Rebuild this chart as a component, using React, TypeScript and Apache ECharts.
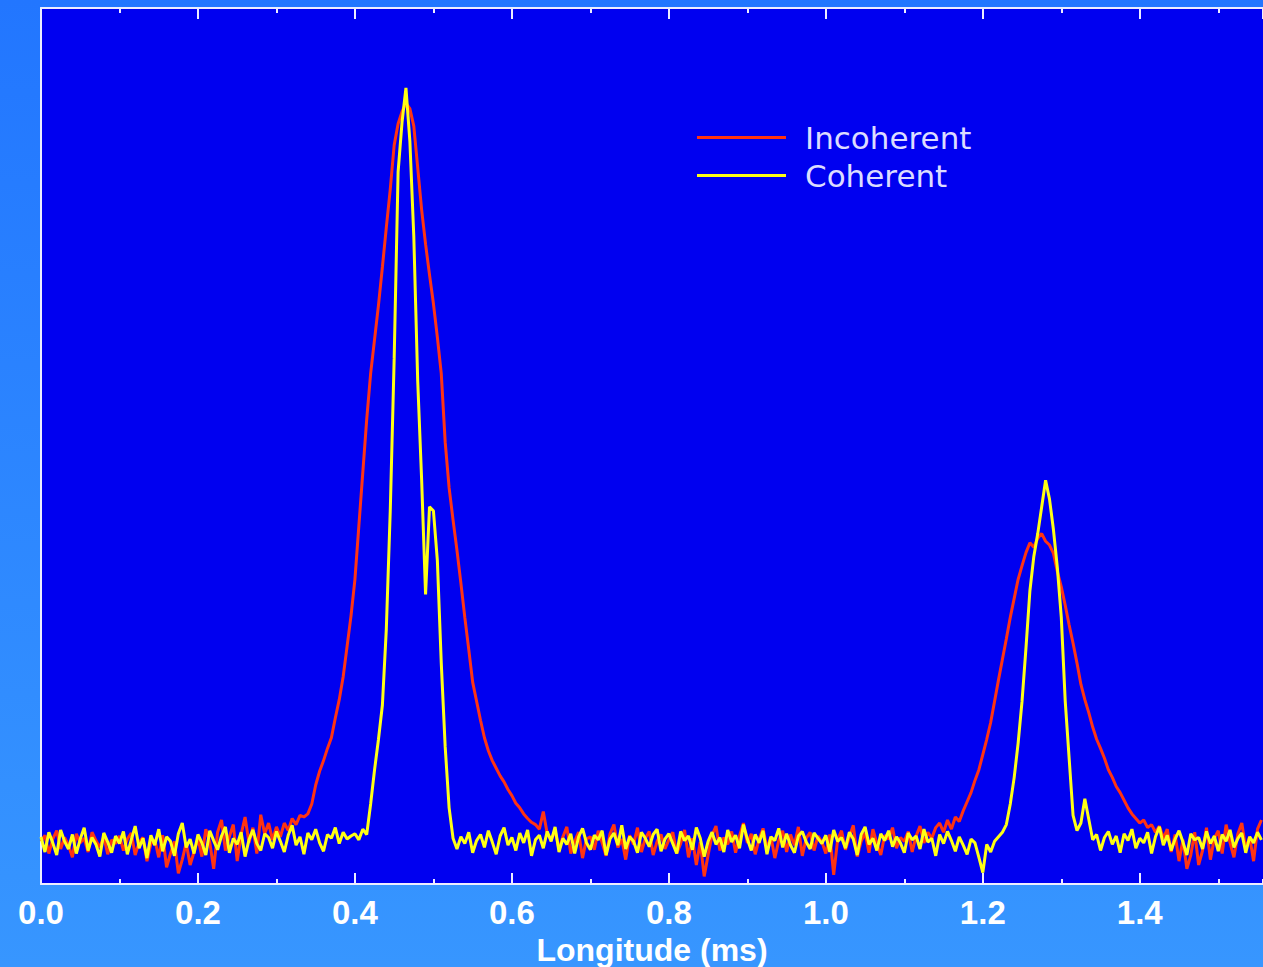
import React, { useEffect, useRef } from "react";
import * as echarts from "echarts";

// Pulse profiles sampled every 0.005 ms, starting at 0 ms (intensity, normalised to the main peak).
const SAMPLE_STEP_MS = 0.005;

const incoherentProfile: number[] = [
  // 0.000 - 0.095
  0.006, 0.014, -0.010, 0.009, 0.020, -0.004, 0.011, 0.001, -0.015, 0.016, 0.004, 0.010, -0.008, 0.018, 0.007, -0.002, 0.012, -0.011, 0.008, 0.003,
  // 0.100 - 0.195
  0.013, -0.006, 0.009, 0.017, -0.012, 0.005, 0.011, -0.020, 0.003, 0.008, -0.015, 0.014, -0.028, -0.010, 0.006, -0.036, -0.018, 0.004, -0.025, -0.008,
  // 0.200 - 0.295
  0.010, -0.014, 0.022, 0.005, -0.030, 0.018, 0.034, -0.006, 0.012, 0.028, -0.020, 0.015, 0.038, 0.004, 0.024, -0.010, 0.041, 0.016, 0.030, 0.008,
  // 0.300 - 0.395
  0.025, 0.012, 0.030, 0.020, 0.036, 0.028, 0.040, 0.038, 0.042, 0.055, 0.080, 0.098, 0.112, 0.128, 0.142, 0.168, 0.192, 0.222, 0.262, 0.302,
  // 0.400 - 0.495
  0.350, 0.420, 0.490, 0.560, 0.620, 0.665, 0.710, 0.760, 0.812, 0.862, 0.920, 0.948, 0.964, 0.975, 0.968, 0.945, 0.890, 0.835, 0.790, 0.750,
  // 0.500 - 0.595
  0.712, 0.668, 0.620, 0.530, 0.470, 0.428, 0.388, 0.345, 0.300, 0.258, 0.215, 0.190, 0.165, 0.142, 0.125, 0.112, 0.102, 0.092, 0.084, 0.074,
  // 0.600 - 0.695
  0.066, 0.056, 0.050, 0.042, 0.036, 0.031, 0.028, 0.022, 0.045, 0.016, 0.008, 0.020, -0.004, 0.012, 0.025, -0.010, 0.006, 0.018, -0.016, 0.009,
  // 0.700 - 0.795
  0.012, -0.005, 0.020, 0.004, -0.013, 0.016, 0.028, -0.002, 0.009, -0.018, 0.014, 0.002, 0.024, -0.008, 0.010, 0.019, -0.012, 0.006, 0.015, -0.004,
  // 0.800 - 0.895
  0.008, 0.018, -0.010, 0.003, 0.021, -0.015, 0.010, -0.025, 0.005, -0.040, -0.012, 0.014, 0.026, -0.006, 0.011, 0.002, 0.019, -0.009, 0.013, 0.030,
  // 0.900 - 0.995
  0.004, 0.016, -0.011, 0.009, 0.023, -0.004, 0.012, -0.016, 0.007, 0.020, -0.008, 0.015, 0.001, 0.025, -0.013, 0.010, 0.018, -0.006, 0.013, 0.005,
  // 1.000 - 1.095
  -0.010, 0.015, -0.038, 0.008, 0.020, -0.005, 0.012, 0.027, -0.014, 0.006, 0.017, -0.009, 0.022, 0.003, -0.012, 0.014, 0.009, 0.024, -0.003, 0.011,
  // 1.100 - 1.195
  0.006, 0.019, -0.008, 0.013, 0.026, 0.004, 0.018, 0.010, 0.024, 0.030, 0.018, 0.034, 0.022, 0.038, 0.032, 0.046, 0.058, 0.070, 0.086, 0.100,
  // 1.200 - 1.295
  0.120, 0.140, 0.162, 0.190, 0.218, 0.245, 0.272, 0.300, 0.325, 0.350, 0.368, 0.385, 0.398, 0.392, 0.404, 0.410, 0.400, 0.395, 0.384, 0.360,
  // 1.300 - 1.395
  0.340, 0.316, 0.290, 0.266, 0.240, 0.212, 0.192, 0.175, 0.156, 0.140, 0.128, 0.115, 0.100, 0.090, 0.078, 0.070, 0.060, 0.050, 0.042, 0.036,
  // 1.400 - 1.495
  0.030, 0.034, 0.024, 0.028, 0.018, 0.026, 0.010, 0.022, -0.008, 0.015, -0.020, 0.008, -0.030, -0.012, 0.018, -0.025, -0.006, 0.024, -0.018, 0.010,
  // 1.500 - 1.555
  0.020, -0.010, 0.028, 0.004, -0.015, 0.016, 0.030, -0.004, 0.012, -0.020, 0.022, 0.034,
];

const coherentProfile: number[] = [
  // 0.000 - 0.095
  0.012, -0.008, 0.018, 0.004, -0.012, 0.021, 0.006, -0.004, 0.015, -0.010, 0.009, 0.024, -0.006, 0.011, 0.002, -0.014, 0.017, 0.005, -0.009, 0.013,
  // 0.100 - 0.195
  0.003, 0.019, -0.011, 0.008, 0.026, -0.003, 0.010, -0.016, 0.014, 0.001, 0.022, -0.007, 0.012, 0.006, -0.013, 0.016, 0.030, -0.002, 0.009, -0.010,
  // 0.200 - 0.295
  0.015, 0.004, -0.012, 0.020, 0.007, -0.005, 0.013, 0.025, -0.009, 0.010, 0.002, 0.018, -0.014, 0.008, 0.021, 0.003, -0.006, 0.016, 0.011, -0.003,
  // 0.300 - 0.395
  0.019, 0.006, -0.008, 0.014, 0.027, 0.001, 0.012, -0.011, 0.017, 0.008, 0.022, 0.004, -0.007, 0.015, 0.010, 0.024, 0.003, 0.018, 0.009, 0.013,
  // 0.400 - 0.495
  0.016, 0.008, 0.022, 0.015, 0.055, 0.100, 0.140, 0.185, 0.285, 0.440, 0.640, 0.885, 0.950, 0.995, 0.925, 0.800, 0.610, 0.480, 0.330, 0.445,
  // 0.500 - 0.595
  0.440, 0.375, 0.240, 0.130, 0.050, 0.010, -0.004, 0.012, 0.003, 0.018, -0.009, 0.007, 0.015, -0.002, 0.020, 0.005, -0.011, 0.013, 0.024, 0.001,
  // 0.600 - 0.695
  0.011, -0.006, 0.017, 0.004, 0.021, -0.013, 0.008, 0.014, -0.003, 0.019, 0.006, 0.025, -0.008, 0.010, 0.002, 0.016, -0.010, 0.012, 0.023, 0.004,
  // 0.700 - 0.795
  -0.005, 0.014, 0.008, 0.020, -0.012, 0.009, 0.017, 0.001, 0.027, -0.004, 0.012, 0.006, -0.009, 0.018, 0.010, -0.001, 0.015, 0.022, -0.007, 0.009,
  // 0.800 - 0.895
  0.016, 0.003, -0.010, 0.019, 0.007, 0.013, -0.005, 0.024, 0.010, -0.014, 0.006, 0.018, 0.002, 0.011, -0.008, 0.021, 0.005, 0.014, -0.003, 0.028,
  // 0.900 - 0.995
  0.009, -0.006, 0.015, 0.004, 0.020, -0.011, 0.012, 0.007, 0.023, -0.002, 0.016, 0.001, -0.009, 0.013, 0.019, 0.005, -0.004, 0.017, 0.010, 0.003,
  // 1.000 - 1.095
  0.014, -0.008, 0.021, 0.006, 0.011, -0.003, 0.018, 0.009, -0.012, 0.015, 0.025, 0.002, 0.010, -0.006, 0.016, 0.007, 0.020, -0.001, 0.012, 0.004,
  // 1.100 - 1.195
  -0.009, 0.017, 0.008, 0.013, -0.004, 0.022, 0.005, 0.010, -0.013, 0.015, 0.003, 0.019, 0.007, -0.007, 0.012, 0.001, -0.011, 0.009, 0.004, -0.015,
  // 1.200 - 1.295
  -0.035, 0.002, -0.008, 0.006, 0.012, 0.018, 0.028, 0.055, 0.090, 0.135, 0.190, 0.260, 0.335, 0.380, 0.410, 0.445, 0.480, 0.455, 0.415, 0.365,
  // 1.300 - 1.395
  0.300, 0.190, 0.115, 0.040, 0.020, 0.030, 0.062, 0.035, 0.008, 0.015, -0.006, 0.011, 0.019, 0.002, 0.013, -0.009, 0.016, 0.007, 0.022, -0.003,
  // 1.400 - 1.495
  0.010, 0.004, 0.018, -0.010, 0.012, 0.025, 0.001, 0.014, -0.006, 0.009, 0.020, 0.005, -0.012, 0.016, 0.008, 0.011, -0.004, 0.019, 0.003, 0.013,
  // 1.500 - 1.555
  -0.007, 0.015, 0.006, 0.021, -0.002, 0.010, 0.017, -0.009, 0.012, 0.004, 0.018, 0.008,
];

const seriesNames = ["Incoherent", "Coherent"];
const seriesColors = ["#ff3312", "#ffff14"];

const X_MIN = 0;
const X_MAX = 1.557;
const Y_MIN = -0.05;
const Y_MAX = 1.1;
const MAJOR_STEP = 0.2;
const MINOR_STEP = 0.1;

const AXIS_COLOR = "#ececff";

const toPoints = (values: number[]) =>
  values.map((v, i) => [Number((i * SAMPLE_STEP_MS).toFixed(4)), v]);

const isMajor = (v: number) => Math.abs(v / MAJOR_STEP - Math.round(v / MAJOR_STEP)) < 1e-6;

export default function App() {
  const ref = useRef<HTMLDivElement>(null);

  useEffect(() => {
    if (!ref.current) return;
    const chart = echarts.init(ref.current, undefined, { renderer: "svg" });

    // Extra x axes that only carry tick marks (minor ticks, and the mirrored top frame).
    const tickAxis = (position: "top" | "bottom", interval: number, length: number, withLine: boolean) => ({
      type: "value",
      position,
      min: X_MIN,
      max: X_MAX,
      interval,
      axisLine: { show: withLine, onZero: false, lineStyle: { color: AXIS_COLOR, width: 2 } },
      axisTick: { show: true, inside: true, length, lineStyle: { color: AXIS_COLOR, width: 2 } },
      axisLabel: { show: false },
      splitLine: { show: false },
    });

    chart.setOption({
      animation: false,
      backgroundColor: new echarts.graphic.LinearGradient(0, 0, 0, 1, [
        { offset: 0, color: "#2276ff" },
        { offset: 1, color: "#3796ff" },
      ]),
      grid: {
        left: 41,
        right: 0,
        top: 8,
        bottom: 83,
        show: true,
        backgroundColor: "#0000f0",
        borderWidth: 0,
        outerBoundsMode: "none",
      },
      legend: {
        data: seriesNames,
        orient: "vertical",
        left: 692,
        top: 117,
        itemWidth: 89,
        itemHeight: 3,
        itemGap: 7,
        icon: "rect",
        selectedMode: false,
        textStyle: {
          color: "#dcdcff",
          fontSize: 31,
          lineHeight: 31,
          fontFamily: "DejaVu Sans",
          padding: [0, 0, 0, 14],
        },
      },
      xAxis: [
        {
          type: "value",
          position: "bottom",
          min: X_MIN,
          max: X_MAX,
          interval: MAJOR_STEP,
          name: "Longitude (ms)",
          nameLocation: "middle",
          nameGap: 42,
          nameTextStyle: {
            color: "#ffffff",
            fontSize: 32,
            fontWeight: "bold",
            fontFamily: "Liberation Sans",
          },
          axisLine: { show: true, onZero: false, lineStyle: { color: AXIS_COLOR, width: 2 } },
          axisTick: { show: true, inside: true, length: 11, lineStyle: { color: AXIS_COLOR, width: 2 } },
          axisLabel: {
            show: true,
            margin: 12,
            color: "#ffffff",
            fontSize: 33,
            fontWeight: "bold",
            fontFamily: "Liberation Sans",
            showMaxLabel: false,
            formatter: (v: number) => (isMajor(v) ? v.toFixed(1) : ""),
          },
          splitLine: { show: false },
        },
        tickAxis("bottom", MINOR_STEP, 5, false),
        tickAxis("top", MAJOR_STEP, 11, true),
        tickAxis("top", MINOR_STEP, 5, false),
      ],
      yAxis: {
        type: "value",
        min: Y_MIN,
        max: Y_MAX,
        axisLine: { show: true, onZero: false, lineStyle: { color: AXIS_COLOR, width: 2 } },
        axisTick: { show: false },
        axisLabel: { show: false },
        splitLine: { show: false },
      },
      series: [
        {
          name: seriesNames[0],
          type: "line",
          xAxisIndex: 0,
          data: toPoints(incoherentProfile),
          showSymbol: false,
          color: seriesColors[0],
          lineStyle: { color: seriesColors[0], width: 3 },
        },
        {
          name: seriesNames[1],
          type: "line",
          xAxisIndex: 0,
          data: toPoints(coherentProfile),
          showSymbol: false,
          color: seriesColors[1],
          lineStyle: { color: seriesColors[1], width: 3 },
        },
      ],
    });

    return () => chart.dispose();
  }, []);

  return (
    <div
      ref={ref}
      style={{ position: "absolute", left: 0, top: 0, width: 1263, height: 967 }}
    />
  );
}
